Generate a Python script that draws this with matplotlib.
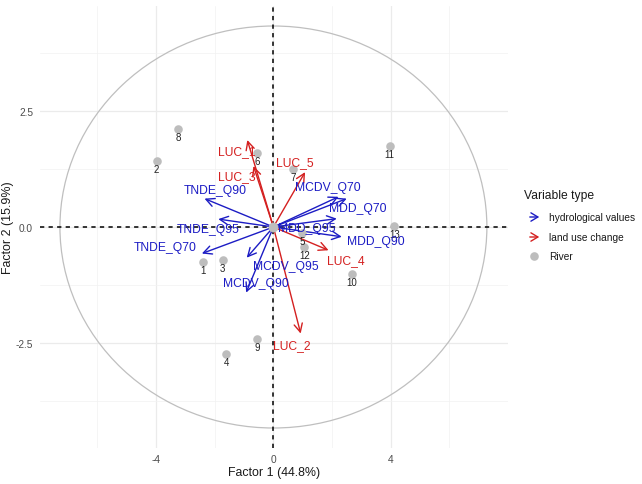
import matplotlib
matplotlib.use("Agg")
import matplotlib.pyplot as plt
from matplotlib.patches import Ellipse, FancyArrowPatch
from matplotlib.lines import Line2D

plt.rcParams['font.family'] = ['Liberation Sans', 'DejaVu Sans']

# ---- data ----
var_names = ['TNDE_Q90', 'TNDE_Q95', 'TNDE_Q70', 'MCDV_Q95', 'MCDV_Q90',
             'MCDV_Q70', 'MDD_Q70', 'MDD_Q95', 'MDD_Q90',
             'LUC_1', 'LUC_3', 'LUC_5', 'LUC_4', 'LUC_2']
var_type = ['hydrological values'] * 9 + ['land use change'] * 5
var_x = [-2.35, -1.88, -2.44, -0.91, -0.93, 2.22, 2.50, 2.16, 2.33,
         -0.89, -0.68, 1.08, 1.88, 0.93]
var_y = [0.61, 0.17, -0.57, -0.66, -1.41, 0.65, 0.61, 0.18, -0.21,
         1.87, 1.31, 1.18, -0.50, -2.29]
label_x = [-1.99, -2.23, -3.69, 0.43, -0.59, 1.85, 2.87, 1.12, 3.50,
           -1.26, -1.24, 0.74, 2.48, 0.62]
label_y = [0.80, -0.05, -0.43, -0.84, -1.21, 0.87, 0.40, -0.03, -0.31,
           1.64, 1.10, 1.39, -0.72, -2.53]

river_ids = ['1', '2', '3', '4', '5', '6', '7', '8', '9', '10', '11', '12', '13']
river_x = [-2.41, -3.98, -1.73, -1.60, 0.99, -0.55, 0.68, -3.24, -0.55,
           2.67, 3.96, 1.06, 4.12]
river_y = [-0.75, 1.42, -0.70, -2.72, -0.12, 1.59, 1.24, 2.10, -2.40,
           -1.00, 1.74, -0.44, 0.02]

circle_rx = 7.28
circle_ry = 4.32

x_ticks = [-4, 0, 4]
x_ticklabels = ['-4', '0', '4']
y_ticks = [-2.5, 0.0, 2.5]
y_ticklabels = ['-2.5', '0.0', '2.5']
x_title = 'Factor 1 (44.8%)'
y_title = 'Factor 2 (15.9%)'
legend_title = 'Variable type'

colors = {'hydrological values': '#1c1cc4', 'land use change': '#d42020'}
point_color = '#bdbdbd'

# ---- figure ----
W, H = 642, 485
fig = plt.figure(figsize=(W / 100, H / 100), dpi=100)
ax = fig.add_axes([40 / W, 1 - 449 / H, 468 / W, 442 / H])
ax.set_xlim(-7.96, 8.0)
ax.set_ylim(-4.75, 4.75)

for s in ax.spines.values():
    s.set_visible(False)
ax.set_xticks(x_ticks)
ax.set_xticklabels(x_ticklabels)
ax.set_yticks(y_ticks)
ax.set_yticklabels(y_ticklabels)
ax.set_xticks([-6, -2, 2, 6], minor=True)
ax.set_yticks([-3.75, -1.25, 1.25, 3.75], minor=True)
ax.tick_params(which='both', length=0)
ax.tick_params(axis='x', pad=4, labelsize=7.3, labelcolor='#4d4d4d')
ax.tick_params(axis='y', pad=5, labelsize=7.3, labelcolor='#4d4d4d')
ax.grid(which='major', color='#ebebeb', lw=0.9, zorder=0)
ax.grid(which='minor', color='#f2f2f2', lw=0.5, zorder=0)
ax.set_axisbelow(True)

ax.set_xlabel(x_title, fontsize=8.9, color='#1a1a1a', va='center')
ax.xaxis.set_label_coords(0.5, (449 - 473) / 442)
ax.set_ylabel(y_title, fontsize=8.9, color='#1a1a1a', va='center')
ax.yaxis.set_label_coords((8 - 40) / 468, 0.5)

# correlation ellipse
ax.add_patch(Ellipse((0, 0), 2 * circle_rx, 2 * circle_ry, fill=False,
                     edgecolor='#bfbfbf', lw=0.9, zorder=1))

# dashed axes
ax.axhline(0, color='black', ls=(0, (2.8, 2.8)), lw=1.1, zorder=2)
ax.axvline(0, color='black', ls=(0, (2.8, 2.8)), lw=1.1, zorder=2)

# variable arrows
for name, t, x, y in zip(var_names, var_type, var_x, var_y):
    ax.annotate('', xy=(x, y), xytext=(0, 0),
                arrowprops=dict(arrowstyle='->,head_length=0.6,head_width=0.3',
                                color=colors[t], lw=1.0, mutation_scale=10,
                                shrinkA=0, shrinkB=0), zorder=3)

# rivers
ax.scatter(river_x, river_y, s=38, color=point_color, zorder=3.5, linewidths=0)
ax.scatter([0], [0], s=50, color=point_color, zorder=3.5, linewidths=0)
for rid, x, y in zip(river_ids, river_x, river_y):
    ax.annotate(rid, (x, y), xytext=(0, -8), textcoords='offset pixels',
                ha='center', va='center', fontsize=7, color='#222222', zorder=3.6)

for name, t, lx, ly in zip(var_names, var_type, label_x, label_y):
    ax.text(lx, ly, name, color=colors[t], fontsize=8.7, ha='center',
            va='center', zorder=4)

# ---- legend (manual) ----
def fx(px):
    return px / W


def fy(py):
    return 1 - py / H


fig.text(fx(524), fy(196), legend_title, fontsize=8.7, color='#1a1a1a',
         ha='left', va='center')
legend_items = ['hydrological values', 'land use change']
legend_rows = [218, 238]
for item, row in zip(legend_items, legend_rows):
    arr = FancyArrowPatch((fx(527), fy(row)), (fx(542), fy(row)),
                          transform=fig.transFigure,
                          arrowstyle='->,head_length=0.5,head_width=0.3',
                          mutation_scale=10, color=colors[item], lw=1.0)
    fig.add_artist(arr)
    fig.text(fx(549), fy(row), item, fontsize=7.3, color='#1a1a1a',
             ha='left', va='center')
fig.add_artist(Line2D([fx(534)], [fy(257)], marker='o', markersize=6.2,
                      color=point_color, markeredgewidth=0,
                      transform=fig.transFigure))
fig.text(fx(549), fy(257), 'River', fontsize=7.3, color='#1a1a1a',
         ha='left', va='center')

fig.savefig('out.png', dpi=100, facecolor='white')
